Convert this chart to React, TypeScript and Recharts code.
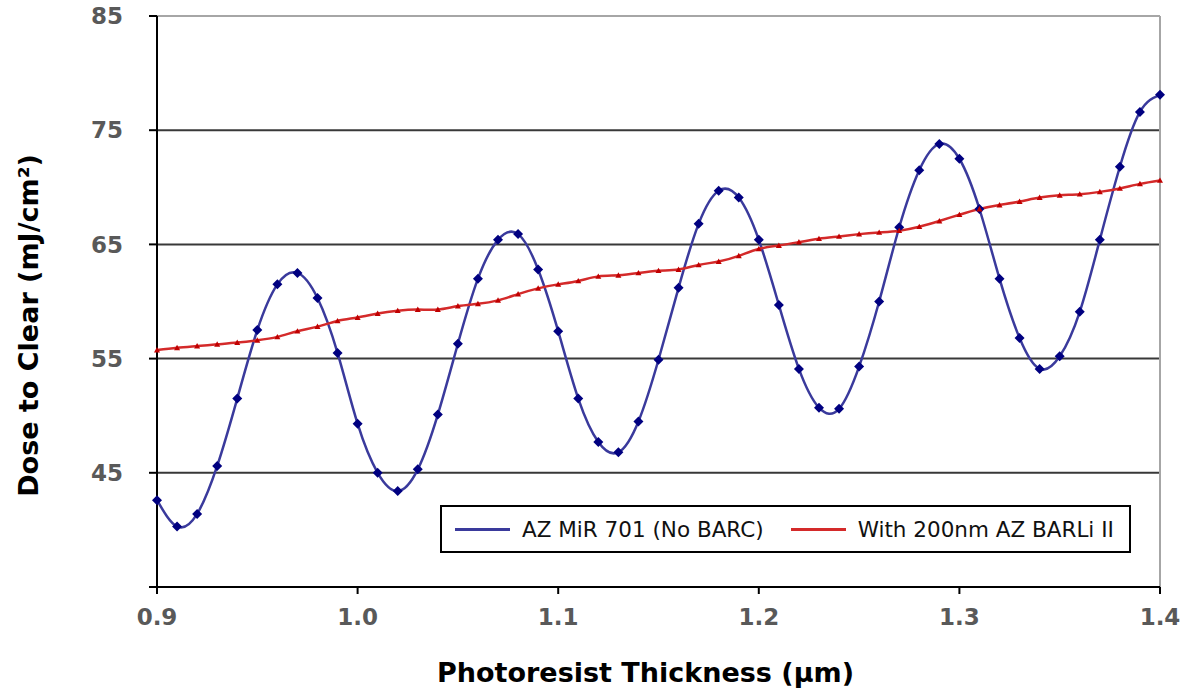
import React from 'react';
import { LineChart, Line, XAxis, YAxis, ReferenceLine, Legend } from 'recharts';

const thickness = [
  0.9, 0.91, 0.92, 0.93, 0.94, 0.95, 0.96, 0.97, 0.98, 0.99,
  1.0, 1.01, 1.02, 1.03, 1.04, 1.05, 1.06, 1.07, 1.08, 1.09,
  1.1, 1.11, 1.12, 1.13, 1.14, 1.15, 1.16, 1.17, 1.18, 1.19,
  1.2, 1.21, 1.22, 1.23, 1.24, 1.25, 1.26, 1.27, 1.28, 1.29,
  1.3, 1.31, 1.32, 1.33, 1.34, 1.35, 1.36, 1.37, 1.38, 1.39, 1.4,
];

// AZ MiR 701, no BARC
const noBarc = [
  42.6, 40.3, 41.4, 45.6, 51.5, 57.5, 61.5, 62.5, 60.3, 55.5,
  49.3, 45.0, 43.4, 45.3, 50.1, 56.3, 62.0, 65.4, 65.9, 62.8,
  57.4, 51.5, 47.7, 46.8, 49.5, 54.9, 61.2, 66.8, 69.7, 69.1,
  65.4, 59.7, 54.1, 50.7, 50.6, 54.3, 60.0, 66.5, 71.5, 73.8,
  72.5, 68.1, 62.0, 56.8, 54.1, 55.2, 59.1, 65.4, 71.8, 76.6, 78.1,
];

// with 200nm AZ BARLi II
const withBarc = [
  55.75, 55.95, 56.1, 56.25, 56.4, 56.6, 56.9, 57.4, 57.8, 58.3,
  58.6, 58.95, 59.2, 59.3, 59.3, 59.6, 59.8, 60.1, 60.65, 61.15,
  61.5, 61.8, 62.2, 62.3, 62.5, 62.7, 62.8, 63.2, 63.5, 64.0,
  64.6, 64.9, 65.2, 65.5, 65.7, 65.9, 66.05, 66.2, 66.55, 67.05,
  67.6, 68.1, 68.45, 68.75, 69.1, 69.3, 69.4, 69.6, 69.9, 70.3, 70.6,
];

const xTicks = [0.9, 1.0, 1.1, 1.2, 1.3, 1.4];
const yTicks = [35, 45, 55, 65, 75, 85];
const gridValues = [45, 55, 65, 75];

const seriesNames = ['AZ MiR 701 (No BARC)', 'With 200nm AZ BARLi II'];

const data = thickness.map((t, i) => ({ t, a: noBarc[i], b: withBarc[i] }));

const TICK_FONT = '"DejaVu Sans", Verdana, sans-serif';

const Diamond = (props: any) => {
  const { cx, cy } = props;
  if (cx == null || cy == null) return null;
  const r = 5;
  return (
    <polygon
      points={`${cx},${cy - r} ${cx + r},${cy} ${cx},${cy + r} ${cx - r},${cy}`}
      fill="#000080"
      stroke="none"
    />
  );
};

const Triangle = (props: any) => {
  const { cx, cy } = props;
  if (cx == null || cy == null) return null;
  const r = 3;
  return (
    <polygon
      points={`${cx},${cy - r} ${cx + r},${cy + r * 0.8} ${cx - r},${cy + r * 0.8}`}
      fill="#c00000"
      stroke="none"
    />
  );
};

const LegendBox = (props: any) => {
  const { payload } = props;
  return (
    <div
      style={{
        boxSizing: 'border-box',
        width: 691,
        height: 48,
        border: '2px solid #000',
        background: '#fff',
        display: 'flex',
        alignItems: 'center',
        paddingLeft: 13,
        fontFamily: '"DejaVu Sans", Tahoma, sans-serif',
        fontSize: 21.5,
        color: '#111',
        whiteSpace: 'nowrap',
      }}
    >
      {payload?.map((entry: any, index: number) => (
        <div key={`legend-${index}`} style={{ display: 'flex', alignItems: 'center', marginRight: 27 }}>
          <div style={{ width: 55, height: 3, background: entry.color, marginRight: 12 }} />
          <span>{entry.value}</span>
        </div>
      ))}
    </div>
  );
};

export default function App() {
  return (
    <div style={{ position: 'absolute', left: 0, top: 0, background: '#fff' }}>
      <LineChart
        width={1188}
        height={697}
        data={data}
        margin={{ top: 16, right: 28, bottom: 10, left: 7 }}
      >
        {gridValues.map((v) => (
          <ReferenceLine key={v} y={v} stroke="#383838" strokeWidth={2} />
        ))}
        <ReferenceLine y={85} stroke="#a6a6a6" strokeWidth={2} />
        <ReferenceLine x={1.4} stroke="#a6a6a6" strokeWidth={2} />
        <XAxis
          dataKey="t"
          type="number"
          domain={[0.9, 1.4]}
          ticks={xTicks}
          tickFormatter={(v: number) => v.toFixed(1)}
          height={100}
          stroke="#000"
          strokeWidth={2}
          tickSize={7}
          tickMargin={15}
          tick={{ fill: '#595959', fontSize: 23, fontWeight: 'bold', fontFamily: TICK_FONT }}
          label={({ viewBox }: any) => (
            <text
              x={viewBox.x + viewBox.width / 2 - 13}
              y={viewBox.y + 95}
              textAnchor="middle"
              fill="#000"
              fontSize={27}
              fontWeight="bold"
              fontFamily={TICK_FONT}
            >
              Photoresist Thickness (µm)
            </text>
          )}
        />
        <YAxis
          type="number"
          domain={[35, 85]}
          ticks={yTicks}
          interval={0}
          tickFormatter={(v: number) => (v === 35 ? '' : String(v))}
          width={150}
          stroke="#000"
          strokeWidth={2}
          tickSize={8}
          tickMargin={26}
          tick={{ fill: '#595959', fontSize: 23, fontWeight: 'bold', fontFamily: TICK_FONT }}
          label={({ viewBox }: any) => {
            const x = viewBox.x + 21;
            const y = viewBox.y + viewBox.height / 2 + 24;
            return (
              <text
                x={x}
                y={y}
                transform={`rotate(-90 ${x} ${y})`}
                textAnchor="middle"
                dominantBaseline="central"
                fill="#000"
                fontSize={27}
                fontWeight="bold"
                fontFamily={TICK_FONT}
              >
                Dose to Clear (mJ/cm²)
              </text>
            );
          }}
        />
        <Legend
          layout="horizontal"
          align="center"
          verticalAlign="middle"
          content={<LegendBox />}
          wrapperStyle={{ position: 'absolute', left: 440, top: 505, width: 691, height: 48 }}
        />
        <Line
          name={seriesNames[0]}
          dataKey="a"
          type="natural"
          stroke="#3a3a9c"
          strokeWidth={2.5}
          dot={<Diamond />}
          activeDot={false}
          isAnimationActive={false}
          legendType="line"
        />
        <Line
          name={seriesNames[1]}
          dataKey="b"
          type="natural"
          stroke="#d42a2a"
          strokeWidth={2.5}
          dot={<Triangle />}
          activeDot={false}
          isAnimationActive={false}
          legendType="line"
        />
      </LineChart>
    </div>
  );
}
